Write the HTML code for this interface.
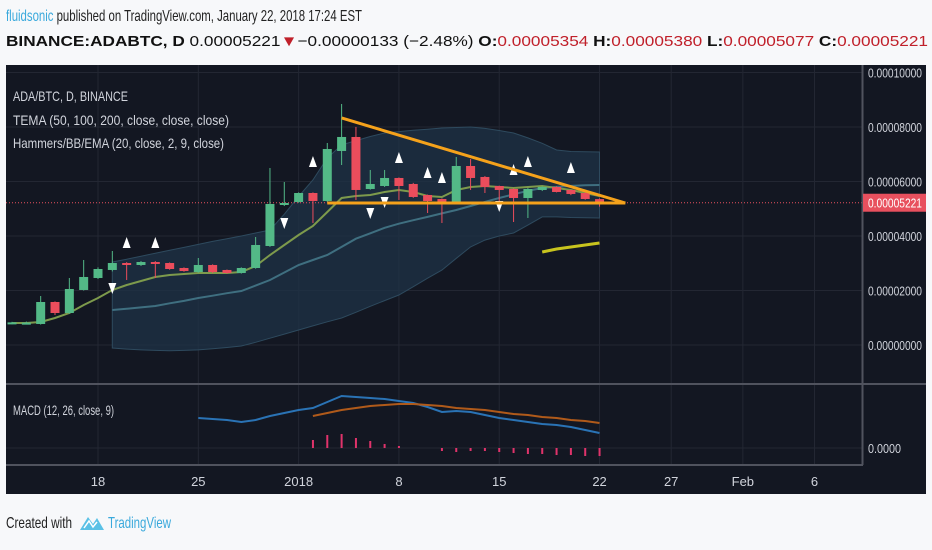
<!DOCTYPE html>
<html><head><meta charset="utf-8"><style>
html,body{margin:0;padding:0;background:#f7f8fa;}
svg{display:block;font-family:"Liberation Sans",sans-serif;}
</style></head><body>
<svg id="c" width="932" height="550" viewBox="0 0 932 550">
<rect x="0" y="0" width="932" height="550" fill="#f7f8fa"/>
<text x="6" y="21" font-size="16" fill="#222" textLength="356" lengthAdjust="spacingAndGlyphs"><tspan fill="#3aa9dc">fluidsonic</tspan> published on TradingView.com, January 22, 2018 17:24 EST</text>
<text x="6" y="46" font-size="15" font-weight="bold" fill="#111" textLength="922" lengthAdjust="spacingAndGlyphs">BINANCE:ADABTC, D <tspan font-weight="normal">0.00005221</tspan><tspan fill="#c0202a">▼</tspan><tspan font-weight="normal">−0.00000133 (−2.48%) </tspan>O:<tspan fill="#c0202a" font-weight="normal">0.00005354</tspan> H:<tspan fill="#c0202a" font-weight="normal">0.00005380</tspan> L:<tspan fill="#c0202a" font-weight="normal">0.00005077</tspan> C:<tspan fill="#c0202a" font-weight="normal">0.00005221</tspan></text>
<rect x="6" y="65" width="920" height="429" fill="#131722"/>
<g id="grid"></g>
<g id="bb"></g>
<g id="lines"></g>
<g id="candles"></g>
<g id="marks"></g>
<g id="draw"></g>
<g id="macd"></g>
<g id="axes"></g>
<text x="13" y="101" font-size="14" fill="#d1d4dc" textLength="115" lengthAdjust="spacingAndGlyphs">ADA/BTC, D, BINANCE</text>
<text x="13" y="125" font-size="14" fill="#d1d4dc" textLength="216" lengthAdjust="spacingAndGlyphs">TEMA (50, 100, 200, close, close, close)</text>
<text x="13" y="148" font-size="14" fill="#d1d4dc" textLength="211" lengthAdjust="spacingAndGlyphs">Hammers/BB/EMA (20, close, 2, 9, close)</text>
<text x="13" y="415" font-size="14" fill="#d1d4dc" textLength="101" lengthAdjust="spacingAndGlyphs">MACD (12, 26, close, 9)</text>
<text x="6" y="528" font-size="16" fill="#222" textLength="66" lengthAdjust="spacingAndGlyphs">Created with</text>
<g><path d="M80 530 L88 517 L93 524 L97 518 L104 530 Z" fill="#5ac1e6"/><path d="M84 528 L89 521 L93 527 L97 522" stroke="#fff" stroke-width="1.5" fill="none"/></g>
<text x="108" y="528" font-size="16" fill="#3aa9dc" textLength="63" lengthAdjust="spacingAndGlyphs">TradingView</text>
</svg>
<script>
// day index relative to Dec 18 (0)
const days=[-6,-5,-4,-3,-2,-1,0,1,2,3,4,5,6,7,8,9,10,11,12,13,14,15,16,17,18,19,20,21,22,23,24,25,26,27,28,29,30,31,32,33,34,35];
// prices in satoshi (1e-8 BTC)
const opens=[780,790,771,1578,1174,2019,2459,2753,3009,2936,3046,3009,2826,2679,2936,2753,2642,2826,3633,5138,5248,5578,5285,7120,7634,5725,5835,6129,5909,5505,5358,5248,6569,6166,5835,5725,5395,5689,5799,5689,5578,5354];
const highs=[850,860,1798,1600,2459,3120,2850,3450,3040,3080,3080,3030,2850,3193,2960,2770,2850,3964,6496,5982,5600,5600,7413,8845,8001,6423,6423,6150,5950,5520,5380,6900,6826,6200,5850,5750,5760,5820,5820,5700,5600,5380];
const lows=[760,770,750,1100,1150,2000,2420,2700,2386,2900,2459,2760,2690,2650,2640,2620,2620,2800,3600,5100,5220,4477,5250,6606,5322,5700,5800,5322,5400,4844,4477,5220,5689,5578,4955,4514,4661,5650,5600,5500,5330,5077];
const closes=[830,820,1578,1174,2055,2496,2789,3009,2936,3046,2973,2789,2716,2936,2679,2642,2826,3670,5175,5211,5578,5285,7193,7634,5689,5909,6129,5835,5432,5285,5211,6569,6129,5799,5689,5395,5725,5799,5615,5542,5358,5221];
const ema=[807,807,844,991,1174,1468,1725,2019,2202,2349,2496,2569,2606,2642,2642,2642,2679,2899,3303,3670,4037,4367,4881,5395,5468,5505,5615,5689,5615,5468,5432,5689,5799,5835,5799,5762,5799,5835,5762,5689,5578,5468];
// Bollinger from day 1..35
const bbDays=[1,2,3,4,5,6,7,8,9,10,11,12,13,14,15,16,17,18,19,20,21,22,23,24,25,26,27,28,29,30,31,32,33,34,35];
const bbMid=[1285,1330,1380,1431,1530,1620,1725,1810,1900,1982,2180,2386,2660,2936,3120,3303,3600,3900,4100,4300,4450,4580,4700,4830,4955,5100,5250,5395,5530,5660,5760,5800,5840,5860,5872];
const bbUpper=[3046,3150,3260,3370,3480,3580,3690,3800,3900,4000,4110,4220,4800,5450,6055,6863,7340,7500,7650,7780,7830,7880,7920,7964,7980,8000,7950,7870,7780,7600,7400,7157,7100,7090,7083];
const bbLower=[-110,-150,-180,-200,-210,-200,-180,-140,-90,-37,100,250,400,550,700,850,990,1200,1420,1630,1835,2140,2450,2750,3180,3600,3850,4000,4110,4400,4700,4700,4680,4670,4660];
const temaDays=[31,32,33,34,35];
const tema=[3413,3523,3597,3670,3743];
const upDays=[2,4,15,21,23,24,29,30,33];
const upPrices=[3743,3743,6716,6863,6312,6129,6423,6716,6496];
const downDays=[1,13,19,20,28];
const downPrices=[2092,4477,4844,5248,5101];
const trendDays=[17,36.8];
const trendPrices=[8331,5211];
const supportDays=[16,36.8];
const supportPrices=[5211,5211];
// MACD from day 7
const macdDays=[7,8,9,10,11,12,13,14,15,16,17,18,19,20,21,22,23,24,25,26,27,28,29,30,31,32,33,34,35];
const macdLine=[30,29,28,26,28,32,35,38,40,46,52,51,50,49,47,45,41,36,37,36,33,30,28,26,24,23,21,18,15];
const sigDays=[15,16,17,18,19,20,21,22,23,24,25,26,27,28,29,30,31,32,33,34,35];
const sigLine=[32,35,38,40,42,43,44,44,43,42,40,39,38,36,34,33,31,30,28,27,25];
const histDays=[15,16,17,18,19,20,21,22,23,24,25,26,27,28,29,30,31,32,33,34,35];
const histVals=[8,13,14,10,7,4,2,0,0,-3,-4,-3,-3,-4,-5,-6,-6,-7,-7,-8,-8];
const priceTicks=[0,2000,4000,6000,8000,10000];
const priceTickLabels=["0.00000000","0.00002000","0.00004000","0.00006000","0.00008000","0.00010000"];
const timeTickDays=[0,7,14,21,28,35,40,45,50];
const timeTickLabels=["18","25","2018","8","15","22","27","Feb","6"];
const lastPrice=5221;

const NS="http://www.w3.org/2000/svg";
const RIGHT=862;
const X=d=>98+d*14.33;
const Y=p=>345-p*54.5/2000;
const MY=v=>448-v;
function el(t,a,p){const e=document.createElementNS(NS,t);for(const k in a)e.setAttribute(k,a[k]);document.getElementById(p).appendChild(e);return e;}
function pts(ds,vs,fy){return ds.map((d,i)=>X(d).toFixed(1)+","+fy(vs[i]).toFixed(1)).join(" ");}
// grid
priceTicks.forEach((p,i)=>{
 let g=el('line',{x1:6,x2:RIGHT,y1:Y(p),y2:Y(p),stroke:'#232733','stroke-width':1},'grid');
 
 
 let t=el('text',{x:868,y:Y(p)+5,'font-size':13,fill:'#d1d4dc',textLength:54,lengthAdjust:'spacingAndGlyphs'},'axes');t.textContent=priceTickLabels[i];
 
 
});
timeTickDays.forEach((d,i)=>{
 let g=el('line',{x1:X(d),x2:X(d),y1:65,y2:465,stroke:'#232733','stroke-width':1},'grid');
 
 
 let t=el('text',{x:X(d),y:486,'font-size':13,fill:'#d1d4dc','text-anchor':'middle'},'axes');t.textContent=timeTickLabels[i];
 
 
});
let mz=el('line',{x1:6,x2:RIGHT,y1:MY(0),y2:MY(0),stroke:'#232733'},'grid');


let ml=el('text',{x:868,y:MY(0)+5,'font-size':13,fill:'#d1d4dc',textLength:33,lengthAdjust:'spacingAndGlyphs'},'axes');ml.textContent="0.0000";


[[6,384,926,384],[6,465,RIGHT+1,465],[RIGHT+0.5,65,RIGHT+0.5,465]].forEach(a=>{let l=el('line',{x1:a[0],y1:a[1],x2:a[2],y2:a[3],stroke:'#50535e','stroke-width':2},'axes');
 
 });
// BB
let bp=el('polygon',{points:pts(bbDays,bbUpper,Y)+" "+pts(bbDays.slice().reverse(),bbLower.slice().reverse(),Y),fill:'#1f3347','fill-opacity':0.75,stroke:'#2e4a5e','stroke-width':1},'bb');


let bm=el('polyline',{points:pts(bbDays,bbMid,Y),fill:'none',stroke:'#3f6f80','stroke-width':2},'bb');


let em=el('polyline',{points:pts(days,ema,Y),fill:'none',stroke:'#7d9a4c','stroke-width':2},'lines');


let tm=el('polyline',{points:pts(temaDays,tema,Y),fill:'none',stroke:'#c8c41e','stroke-width':3},'lines');


// last price line
let lp=el('line',{x1:6,x2:RIGHT,y1:Y(lastPrice),y2:Y(lastPrice),stroke:'#e8505e','stroke-width':1,'stroke-dasharray':'1,2'},'lines');


// candles
days.forEach((d,i)=>{
 const up=closes[i]>=opens[i],col=up?'#53b987':'#eb4d5c',x=X(d);
 let w=el('line',{x1:x,x2:x,y1:Y(highs[i]),y2:Y(lows[i]),stroke:col,'stroke-width':1},'candles');
 
 
 const t=Y(Math.max(opens[i],closes[i])),b=Y(Math.min(opens[i],closes[i]));
 let r=el('rect',{x:x-4.5,y:t,width:9,height:Math.max(2,b-t),fill:col},'candles');
 
 
});
upDays.forEach((d,i)=>{const x=X(d),y=Y(upPrices[i]);
 let m=el('polygon',{points:`${x-4},${y+5} ${x+4},${y+5} ${x},${y-6}`,fill:'#fff'},'marks');
 
 });
downDays.forEach((d,i)=>{const x=X(d),y=Y(downPrices[i]);
 let m=el('polygon',{points:`${x-4},${y-5} ${x+4},${y-5} ${x},${y+6}`,fill:'#fff'},'marks');
 
 });
let tl=el('line',{x1:X(trendDays[0]),y1:Y(trendPrices[0]),x2:X(trendDays[1]),y2:Y(trendPrices[1]),stroke:'#f5a21b','stroke-width':3},'draw');


let sl=el('line',{x1:X(supportDays[0]),y1:Y(supportPrices[0]),x2:X(supportDays[1]),y2:Y(supportPrices[1]),stroke:'#f5a21b','stroke-width':3},'draw');


// MACD
histDays.forEach((d,i)=>{const v=histVals[i];if(v===0)return;
 let h=el('rect',{x:X(d)-1,y:Math.min(MY(0),MY(v)),width:2,height:Math.abs(v),fill:'#e0336b'},'macd');
 
 });
let mm=el('polyline',{points:pts(macdDays,macdLine,MY),fill:'none',stroke:'#2a73b5','stroke-width':2},'macd');


let ms=el('polyline',{points:pts(sigDays,sigLine,MY),fill:'none',stroke:'#b05a1a','stroke-width':2},'macd');


// price label
let pb=el('rect',{x:RIGHT+1,y:Y(lastPrice)-9,width:63,height:18,fill:'#e8505e'},'axes');


let pt=el('text',{x:868,y:Y(lastPrice)+5,'font-size':13,fill:'#fff',textLength:54,lengthAdjust:'spacingAndGlyphs'},'axes');pt.textContent="0.00005221";


</script>
</body></html>
